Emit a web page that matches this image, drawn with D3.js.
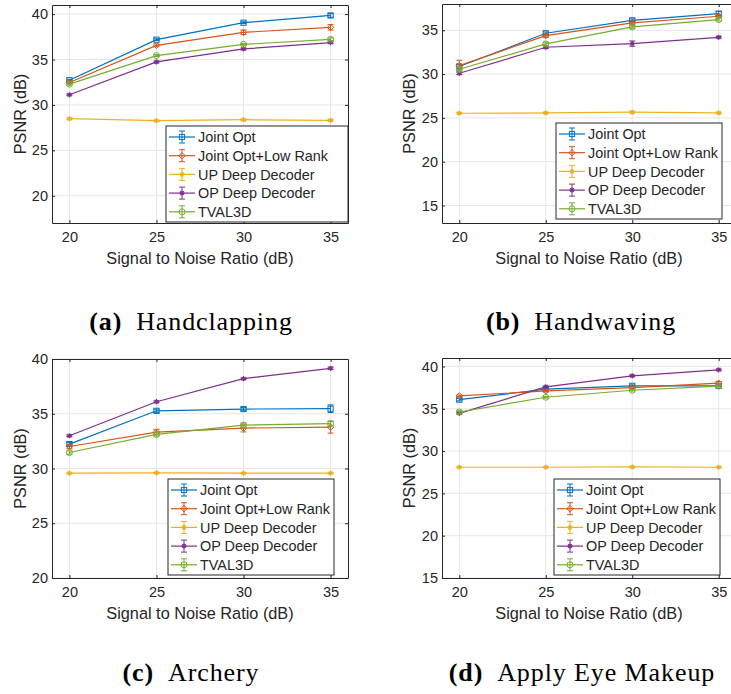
<!DOCTYPE html>
<html>
<head>
<meta charset="utf-8">
<script src="https://cdn.jsdelivr.net/npm/d3@7"></script>
<style>
  body { margin: 0; background: #fff; }
  svg { display: block; }
  text { font-family: "Liberation Sans", Arial, sans-serif; fill: #262626; }
  text.caption { font-family: "Liberation Serif", "Times New Roman", serif; fill: #000; }
</style>
</head>
<body>
<svg id="chart" width="731" height="694"></svg>
<script>
// 横轴：信噪比
const snr = [20, 25, 30, 35];
const methods = ["Joint Opt", "Joint Opt+Low Rank", "UP Deep Decoder", "OP Deep Decoder", "TVAL3D"];
const colors = ["#0072BD", "#D95319", "#EDB120", "#7E2F8E", "#77AC30"];
const markers = ["square", "diamond", "star", "star", "circle"];

// (a) Handclapping
const handclapMean = [
  [32.72, 37.18, 39.05, 39.85],
  [32.47, 36.56, 37.99, 38.54],
  [28.48, 28.26, 28.37, 28.30],
  [31.12, 34.73, 36.16, 36.86],
  [32.29, 35.43, 36.67, 37.22]
];
const handclapErr = [
  [0.10, 0.10, 0.10, 0.20],
  [0.15, 0.15, 0.25, 0.30],
  [0.10, 0.08, 0.10, 0.10],
  [0.10, 0.10, 0.10, 0.10],
  [0.10, 0.10, 0.10, 0.15]
];

// (b) Handwaving
const handwaveMean = [
  [30.86, 34.66, 36.14, 36.90],
  [30.97, 34.39, 35.84, 36.60],
  [25.53, 25.57, 25.65, 25.57],
  [30.09, 33.06, 33.48, 34.20],
  [30.55, 33.44, 35.38, 36.22]
];
const handwaveErr = [
  [0.20, 0.15, 0.15, 0.25],
  [0.60, 0.20, 0.20, 0.20],
  [0.08, 0.08, 0.10, 0.08],
  [0.15, 0.15, 0.30, 0.10],
  [0.30, 0.20, 0.15, 0.15]
];

// (c) Archery
const archeryMean = [
  [32.23, 35.27, 35.43, 35.46],
  [32.01, 33.32, 33.69, 33.78],
  [29.57, 29.60, 29.57, 29.57],
  [32.99, 36.10, 38.20, 39.15],
  [31.46, 33.11, 33.96, 34.09]
];
const archeryErr = [
  [0.15, 0.15, 0.15, 0.35],
  [0.20, 0.25, 0.35, 0.55],
  [0.05, 0.05, 0.05, 0.05],
  [0.08, 0.08, 0.08, 0.10],
  [0.15, 0.15, 0.20, 0.20]
];

// (d) Apply Eye Makeup
const makeupMean = [
  [36.08, 37.31, 37.71, 37.71],
  [36.52, 37.11, 37.51, 38.02],
  [28.09, 28.09, 28.13, 28.09],
  [34.46, 37.59, 38.89, 39.60],
  [34.62, 36.36, 37.19, 37.67]
];
const makeupErr = [
  [0.15, 0.15, 0.10, 0.10],
  [0.10, 0.10, 0.10, 0.20],
  [0.05, 0.05, 0.05, 0.05],
  [0.10, 0.10, 0.10, 0.10],
  [0.15, 0.10, 0.10, 0.10]
];

const xDomain = [19, 36];
const xTicks = [20, 25, 30, 35];

// 四个子图的布局
const panels = [
  { letter: "(a)", title: "Handclapping", mean: handclapMean, err: handclapErr,
    yDomain: [17, 41], yTicks: [20, 25, 30, 35, 40],
    box: { l: 52, r: 348, t: 5, b: 223 }, legend: { x: 166, y: 126, w: 182 },
    ylabelX: 20, captionX: 191, captionY: 330 },
  { letter: "(b)", title: "Handwaving", mean: handwaveMean, err: handwaveErr,
    yDomain: [13, 38], yTicks: [15, 20, 25, 30, 35],
    box: { l: 442, r: 736, t: 4, b: 223 }, legend: { x: 556, y: 123, w: 166 },
    ylabelX: 409, captionX: 581, captionY: 330 },
  { letter: "(c)", title: "Archery", mean: archeryMean, err: archeryErr,
    yDomain: [20, 40], yTicks: [20, 25, 30, 35, 40],
    box: { l: 52, r: 348, t: 359, b: 578 }, legend: { x: 168, y: 479, w: 166 },
    ylabelX: 20, captionX: 191, captionY: 681 },
  { letter: "(d)", title: "Apply Eye Makeup", mean: makeupMean, err: makeupErr,
    yDomain: [15, 41], yTicks: [15, 20, 25, 30, 35, 40],
    box: { l: 442, r: 736, t: 358, b: 578 }, legend: { x: 554, y: 479, w: 166 },
    ylabelX: 409, captionX: 582, captionY: 681 }
];

const svg = d3.select("#chart");
svg.append("rect").attr("width", 731).attr("height", 694).attr("fill", "#fff");

// 画标记点
function drawMarker(sel, type, cx, cy, color) {
  const s = 2.6;
  if (type === "square") {
    sel.append("rect").attr("x", cx - s).attr("y", cy - s).attr("width", 2 * s).attr("height", 2 * s)
      .attr("fill", "none").attr("stroke", color).attr("stroke-width", 1);
  } else if (type === "diamond") {
    sel.append("path").attr("d", `M${cx},${cy - 3.2}L${cx + 3.2},${cy}L${cx},${cy + 3.2}L${cx - 3.2},${cy}Z`)
      .attr("fill", "none").attr("stroke", color).attr("stroke-width", 1);
  } else if (type === "circle") {
    sel.append("circle").attr("cx", cx).attr("cy", cy).attr("r", 3)
      .attr("fill", "none").attr("stroke", color).attr("stroke-width", 1);
  } else {
    const r = 2.6, d = r * 0.72;
    sel.append("path")
      .attr("d", `M${cx - r},${cy}H${cx + r}M${cx},${cy - r}V${cy + r}M${cx - d},${cy - d}L${cx + d},${cy + d}M${cx - d},${cy + d}L${cx + d},${cy - d}`)
      .attr("stroke", color).attr("stroke-width", 1.1);
  }
}

// 误差棒
function drawErrorBar(sel, cx, y1, y2, color) {
  const c = 3;
  sel.append("path")
    .attr("d", `M${cx},${y1}V${y2}M${cx - c},${y1}H${cx + c}M${cx - c},${y2}H${cx + c}`)
    .attr("fill", "none").attr("stroke", color).attr("stroke-width", 1);
}

panels.forEach(p => {
  const g = svg.append("g");
  const { l, r, t, b } = p.box;

  const x = d3.scaleLinear().domain(xDomain).range([l, r]);
  const y = d3.scaleLinear().domain(p.yDomain).range([b, t]);

  // 网格线
  g.append("g").selectAll("line").data(xTicks).enter().append("line")
    .attr("x1", d => x(d)).attr("x2", d => x(d)).attr("y1", t).attr("y2", b)
    .attr("stroke", "#e6e6e6").attr("stroke-width", 1);
  g.append("g").selectAll("line").data(p.yTicks).enter().append("line")
    .attr("x1", l).attr("x2", r).attr("y1", d => y(d)).attr("y2", d => y(d))
    .attr("stroke", "#e6e6e6").attr("stroke-width", 1);

  // 坐标轴（刻度向内，四边都有）
  const axB = g.append("g").attr("transform", `translate(0,${b})`)
    .call(d3.axisBottom(x).tickValues(xTicks).tickSizeInner(-3).tickSizeOuter(0).tickPadding(9));
  const axT = g.append("g").attr("transform", `translate(0,${t})`)
    .call(d3.axisTop(x).tickValues(xTicks).tickSizeInner(-3).tickSizeOuter(0).tickFormat(""));
  const axL = g.append("g").attr("transform", `translate(${l},0)`)
    .call(d3.axisLeft(y).tickValues(p.yTicks).tickSizeInner(-3).tickSizeOuter(0).tickPadding(4));
  const axR = g.append("g").attr("transform", `translate(${r},0)`)
    .call(d3.axisRight(y).tickValues(p.yTicks).tickSizeInner(-3).tickSizeOuter(0).tickFormat(""));
  [axB, axT, axL, axR].forEach(a => {
    a.select(".domain").attr("stroke", "#262626").attr("stroke-width", 1);
    a.selectAll(".tick line").attr("stroke", "#262626");
    a.selectAll(".tick text").attr("font-size", 14.5).attr("fill", "#262626")
      .attr("font-family", "'Liberation Sans', Arial, sans-serif");
  });

  // 轴标题
  g.append("text").attr("x", (l + r) / 2).attr("y", b + 41)
    .attr("text-anchor", "middle").attr("font-size", 16.3)
    .text("Signal to Noise Ratio (dB)");
  g.append("text")
    .attr("transform", `translate(${p.ylabelX},${(t + b) / 2}) rotate(-90)`)
    .attr("text-anchor", "middle").attr("dy", "0.35em").attr("font-size", 16.3)
    .text("PSNR (dB)");

  // 数据线
  const line = d3.line().x((d, i) => x(snr[i])).y(d => y(d));
  methods.forEach((m, k) => {
    const s = g.append("g");
    s.append("path").datum(p.mean[k]).attr("d", line)
      .attr("fill", "none").attr("stroke", colors[k]).attr("stroke-width", 1.2);
    p.mean[k].forEach((v, i) => {
      const e = p.err[k][i];
      drawErrorBar(s, x(snr[i]), y(v - e), y(v + e), colors[k]);
      drawMarker(s, markers[k], x(snr[i]), y(v), colors[k]);
    });
  });

  // 图例
  const L = p.legend;
  const lg = g.append("g");
  lg.append("rect").attr("x", L.x).attr("y", L.y).attr("width", L.w).attr("height", 96)
    .attr("fill", "#fff").attr("stroke", "#262626").attr("stroke-width", 1);
  methods.forEach((m, k) => {
    const cy = L.y + 11 + k * 18.7;
    lg.append("line").attr("x1", L.x + 3).attr("x2", L.x + 29).attr("y1", cy).attr("y2", cy)
      .attr("stroke", colors[k]).attr("stroke-width", 1.2);
    drawErrorBar(lg, L.x + 16, cy - 6, cy + 6, colors[k]);
    drawMarker(lg, markers[k], L.x + 16, cy, colors[k]);
    lg.append("text").attr("x", L.x + 32).attr("y", cy).attr("dy", "0.36em")
      .attr("font-size", 14.4).text(m);
  });

  // 子图标题
  const cap = g.append("text").attr("class", "caption")
    .attr("x", p.captionX).attr("y", p.captionY).attr("text-anchor", "middle")
    .attr("font-size", 26).attr("letter-spacing", 0.9);
  cap.append("tspan").attr("font-weight", "bold").text(p.letter);
  cap.append("tspan").text("\u2002" + p.title);
});
</script>
</body>
</html>
